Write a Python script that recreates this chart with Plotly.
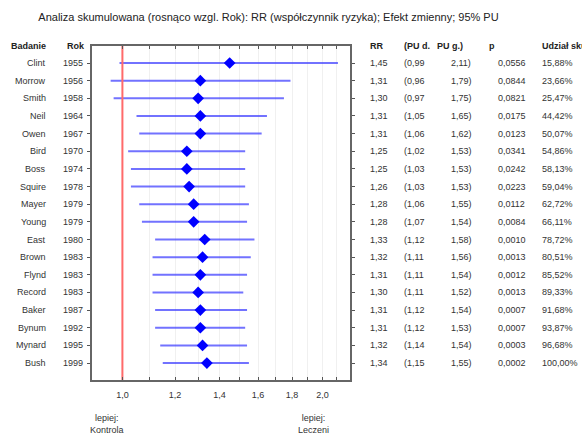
import plotly.graph_objects as go

studies = ["Clint", "Morrow", "Smith", "Neil", "Owen", "Bird", "Boss", "Squire", "Mayer",
           "Young", "East", "Brown", "Flynd", "Record", "Baker", "Bynum", "Mynard", "Bush"]
years = [1955, 1956, 1958, 1964, 1967, 1970, 1974, 1978, 1979,
         1979, 1980, 1983, 1983, 1983, 1987, 1992, 1995, 1999]
rr = [1.45, 1.31, 1.30, 1.31, 1.31, 1.25, 1.25, 1.26, 1.28,
      1.28, 1.33, 1.32, 1.31, 1.30, 1.31, 1.31, 1.32, 1.34]
ci_low = [0.99, 0.96, 0.97, 1.05, 1.06, 1.02, 1.03, 1.03, 1.06,
          1.07, 1.12, 1.11, 1.11, 1.11, 1.12, 1.12, 1.14, 1.15]
ci_high = [2.11, 1.79, 1.75, 1.65, 1.62, 1.53, 1.53, 1.53, 1.55,
           1.54, 1.58, 1.56, 1.54, 1.52, 1.54, 1.53, 1.54, 1.55]
p_values = [0.0556, 0.0844, 0.0821, 0.0175, 0.0123, 0.0341, 0.0242, 0.0223, 0.0112,
            0.0084, 0.0010, 0.0013, 0.0012, 0.0013, 0.0007, 0.0007, 0.0003, 0.0002]
weights = [15.88, 23.66, 25.47, 44.42, 50.07, 54.86, 58.13, 59.04, 62.72,
           66.11, 78.72, 80.51, 85.52, 89.33, 91.68, 93.87, 96.68, 100.00]
x_tick_vals = [0.9, 1.0, 1.1, 1.2, 1.3, 1.4, 1.5, 1.6, 1.7, 1.8, 1.9, 2.0, 2.1, 2.2]
x_tick_text = ["", "1,0", "", "1,2", "", "1,4", "", "1,6", "", "1,8", "", "2,0", "", ""]
title_text = "Analiza skumulowana (rosnąco wzgl. Rok): RR (współczynnik ryzyka); Efekt zmienny; 95% PU"

W, H = 582, 435
L, R, T, B = 92, 350, 46, 380
PW, PH = R - L, B - T
row0, dy = 63.0, 17.65
y_top = (T - row0) / dy
y_bot = (B - row0) / dy


def px(xpix):
    return (xpix - L) / PW


def fmt(v, d):
    return f"{v:.{d}f}".replace(".", ",")


FONT = "Liberation Sans, Arial, sans-serif"
TXT = "#333333"

idx = list(range(len(studies)))
fig = go.Figure()

fig.add_trace(go.Scatter(
    x=rr, y=idx, mode="markers",
    marker=dict(symbol="diamond", size=9, color="#0000ff"),
    error_x=dict(type="data", symmetric=False,
                 array=[h - r for h, r in zip(ci_high, rr)],
                 arrayminus=[r - l for r, l in zip(rr, ci_low)],
                 color="rgba(60,60,255,0.72)", thickness=2, width=0),
    showlegend=False, hoverinfo="skip"))

fig.add_trace(go.Scatter(
    x=[1.0, 1.0], y=[y_top, y_bot], mode="lines",
    line=dict(color="#ff6a6a", width=2), showlegend=False, hoverinfo="skip"))

ann = []
hdr = dict(size=9, color="#222222", family=FONT)
rowf = dict(size=9, color=TXT, family=FONT)
yh = y_top + 0.02
for text, xp in [("Badanie", 9), ("Rok", 65), ("RR", 368), ("(PU d.", 402),
                 ("PU g.)", 435), ("p", 487), ("Udział skumul.", 540)]:
    ann.append(dict(x=px(xp), y=yh, xref="paper", yref="y", text=f"<b>{text}</b>",
                    showarrow=False, xanchor="left", yanchor="middle", font=hdr))

for i in idx:
    ann.append(dict(x=px(48), y=i, xref="paper", yref="y", text=studies[i],
                    showarrow=False, xanchor="right", yanchor="middle", font=rowf))
    ann.append(dict(x=px(85), y=i, xref="paper", yref="y", text=str(years[i]),
                    showarrow=False, xanchor="right", yanchor="middle", font=rowf))
    for text, xp in [(fmt(rr[i], 2), 368), ("(" + fmt(ci_low[i], 2), 402),
                     (fmt(ci_high[i], 2) + ")", 449), (fmt(p_values[i], 4), 496),
                     (fmt(weights[i], 2) + "%", 540)]:
        ann.append(dict(x=px(xp), y=i, xref="paper", yref="y", text=text,
                        showarrow=False, xanchor="left", yanchor="middle", font=rowf))

for text, xp in [("lepiej:<br>Kontrola", 107), ("lepiej:<br>Leczeni", 313)]:
    ann.append(dict(x=px(xp), y=(B - 424.5) / PH, xref="paper", yref="paper", text=text,
                    showarrow=False, xanchor="center", yanchor="middle", font=rowf))

fig.update_layout(
    width=W, height=H,
    margin=dict(l=L, r=W - R, t=T, b=H - B, pad=0),
    paper_bgcolor="white", plot_bgcolor="white",
    font=dict(family=FONT, size=9, color=TXT),
    title=dict(text=title_text, x=268.5 / W, xanchor="center", y=1 - 17 / H,
               yanchor="middle", yref="container",
               font=dict(size=11, color="#222222", family=FONT)),
    annotations=ann,
    xaxis=dict(type="log", range=[-0.045757, 0.342423],
               tickvals=x_tick_vals, ticktext=x_tick_text,
               ticks="inside", ticklen=3, tickcolor="#555555",
               showline=True, linecolor="#666666", linewidth=2, mirror="ticks",
               showgrid=True, gridcolor="#f0f0f0", gridwidth=1, zeroline=False,
               ticklabelstandoff=5, tickfont=dict(size=9, color=TXT)),
    yaxis=dict(range=[y_bot, y_top], tickvals=idx, showticklabels=False,
               ticks="outside", ticklen=3, tickcolor="#555555",
               showline=True, linecolor="#666666", linewidth=2, mirror="ticks",
               showgrid=False, zeroline=False),
)

fig.write_html("out.html")
